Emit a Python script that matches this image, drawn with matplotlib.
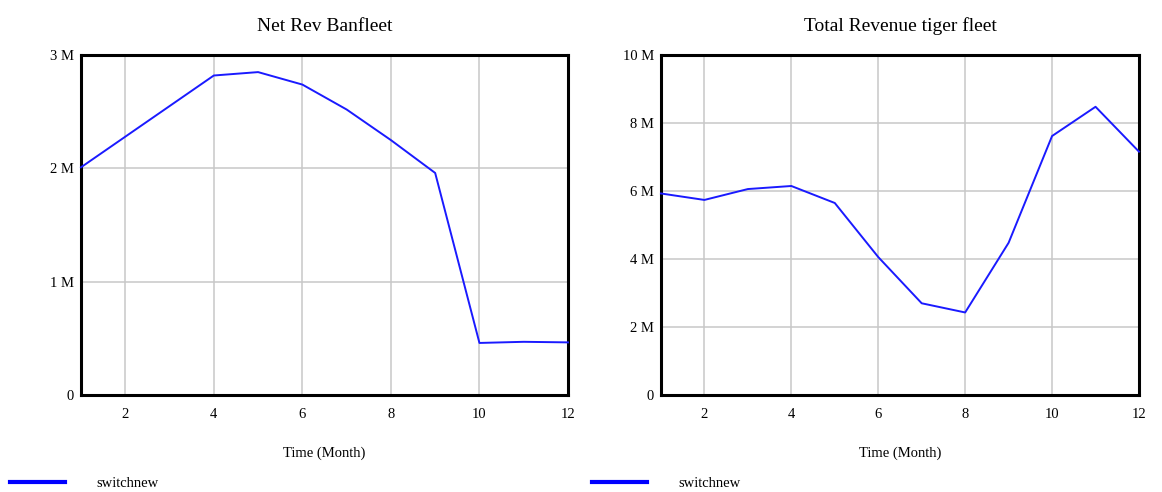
import matplotlib
matplotlib.use("Agg")
import matplotlib.pyplot as plt
from matplotlib.ticker import FuncFormatter

# monthly values, millions
months = [1, 2, 3, 4, 5, 6, 7, 8, 9, 10, 11, 12]
net_rev_banfleet = [2.01, 2.28, 2.55, 2.82, 2.85, 2.74, 2.52, 2.25, 1.96, 0.46, 0.47, 0.465]
total_rev_tiger = [5.93, 5.74, 6.06, 6.15, 5.65, 4.06, 2.70, 2.43, 4.48, 7.62, 8.48, 7.16]

series_label = "switchnew"
titles = ["Net Rev Banfleet", "Total Revenue tiger fleet"]
xlabel = "Time (Month)"

plt.rcParams["font.family"] = ["Liberation Serif", "DejaVu Serif"]

fig = plt.figure(figsize=(11.62, 4.92), dpi=100)
ax1 = fig.add_axes([0.0697, 0.197, 0.4191, 0.691])
ax2 = fig.add_axes([0.5688, 0.197, 0.4114, 0.691])


def _mfmt(v, _):
    return "0" if v == 0 else f"{v:g} M"


def _style(ax, ymax, ystep, title):
    ax.set_xlim(1, 12)
    ax.set_ylim(0, ymax)
    ax.set_xticks(range(2, 13, 2))
    ax.set_yticks([i * ystep for i in range(int(ymax / ystep) + 1)])
    ax.yaxis.set_major_formatter(FuncFormatter(_mfmt))
    ax.tick_params(length=0, labelsize=10.5)
    ax.tick_params(axis="x", pad=9)
    ax.tick_params(axis="y", pad=5)
    ax.grid(color="#c8c8c8", linewidth=1.1)
    ax.set_axisbelow(True)
    for s in ax.spines.values():
        s.set_color("black")
        s.set_linewidth(2.2)
    ax.set_title(title, fontsize=14, pad=17)
    ax.set_xlabel(xlabel, fontsize=10.5, labelpad=19)


ax1.plot(months, net_rev_banfleet, color="#1a1aff", linewidth=1.4, label=series_label,
         clip_on=False, zorder=3)
_style(ax1, 3, 1, titles[0])

ax2.plot(months, total_rev_tiger, color="#1a1aff", linewidth=1.4, label=series_label,
         clip_on=False, zorder=3)
_style(ax2, 10, 2, titles[1])

# legends under each panel, thicker sample line like the source tool
for ax, x0 in ((ax1, 0.0086), (ax2, 0.5095)):
    leg = ax.legend(loc="lower left", bbox_to_anchor=(x0, 0.004), bbox_transform=fig.transFigure,
                    frameon=False, fontsize=10.5, handlelength=3.8, handletextpad=2.1,
                    borderpad=0, borderaxespad=0)
    for h in leg.legend_handles:
        h.set_linewidth(3)
        h.set_color("blue")

fig.savefig("out.png", dpi=100)
